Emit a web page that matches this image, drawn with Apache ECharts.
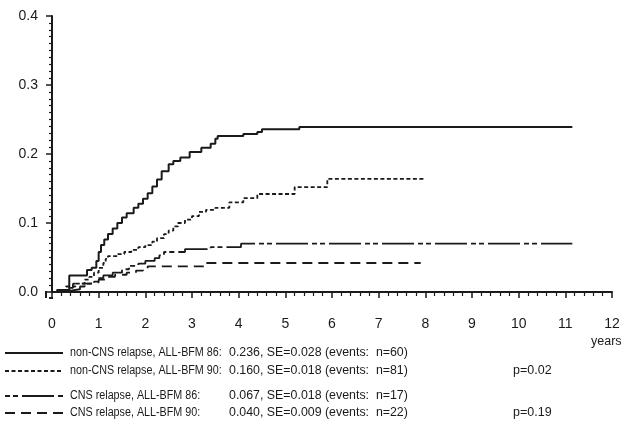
<!DOCTYPE html>
<html>
<head>
<meta charset="utf-8">
<script src="https://cdn.jsdelivr.net/npm/echarts@6/dist/echarts.min.js"></script>
<style>
html,body{margin:0;padding:0;background:#fff;}
#chart{width:629px;height:421px;}
</style>
</head>
<body>
<div id="chart"></div>
<script>
// ---- data (years, cumulative incidence) ----
var nonCns86 = [
  [0.1,0.003],[0.37,0.024],[0.75,0.032],[0.85,0.035],[0.95,0.045],[1.0,0.058],[1.05,0.068],
  [1.12,0.076],[1.2,0.084],[1.3,0.092],[1.4,0.100],[1.5,0.108],[1.6,0.114],[1.75,0.122],
  [1.85,0.128],[1.95,0.135],[2.05,0.143],[2.15,0.153],[2.25,0.163],[2.35,0.175],[2.5,0.185],
  [2.6,0.190],[2.75,0.195],[2.95,0.203],[3.2,0.209],[3.4,0.215],[3.5,0.222],[3.55,0.226],
  [4.1,0.229],[4.4,0.232],[4.5,0.236],[5.3,0.239],[11.15,0.239]
];
var nonCns90 = [
  [0.1,0.002],[0.3,0.008],[0.5,0.012],[0.7,0.018],[0.8,0.022],[0.9,0.028],[1.0,0.035],
  [1.1,0.042],[1.15,0.048],[1.2,0.052],[1.4,0.055],[1.55,0.058],[1.7,0.061],[1.85,0.065],
  [2.0,0.068],[2.15,0.073],[2.25,0.078],[2.4,0.084],[2.5,0.089],[2.6,0.095],[2.7,0.100],
  [2.85,0.105],[3.0,0.110],[3.15,0.116],[3.3,0.119],[3.5,0.122],[3.8,0.130],[4.1,0.136],
  [4.4,0.142],[5.2,0.152],[5.9,0.164],[8.0,0.164]
];
var cns86 = [
  [0.1,0.002],[0.4,0.004],[0.6,0.008],[0.7,0.012],[0.9,0.015],[1.0,0.020],[1.1,0.024],
  [1.3,0.028],[1.5,0.033],[1.65,0.038],[1.85,0.041],[2.0,0.045],[2.2,0.049],[2.3,0.053],
  [2.4,0.058],[2.85,0.062],[3.4,0.065],[4.05,0.070],[11.15,0.070]
];
var cns90 = [
  [0.1,0.002],[0.3,0.006],[0.45,0.012],[0.8,0.014],[1.0,0.018],[1.2,0.022],[1.35,0.025],
  [1.6,0.028],[1.8,0.031],[1.95,0.034],[2.05,0.037],[3.3,0.042],[7.9,0.042]
];
var legendLabels = ['non-CNS relapse, ALL-BFM 86:', 'non-CNS relapse, ALL-BFM 90:', 'CNS relapse, ALL-BFM 86:', 'CNS relapse, ALL-BFM 90:'];
var legendStats = ['0.236, SE=0.028 (events:  n=60)', '0.160, SE=0.018 (events:  n=81)', '0.067, SE=0.018 (events:  n=17)', '0.040, SE=0.009 (events:  n=22)'];
var pValues = ['', 'p=0.02', '', 'p=0.19'];
var xTitle = 'years';

// ---- styles ----
var ink = '#1a1a1a';
var dashes = ['solid', [4, 2.5], [32, 4, 5, 3, 5, 4], [10, 6]];
var widths = [2, 1.8, 1.8, 1.8];
var seriesData = [nonCns86, nonCns90, cns86, cns90];

var chart = echarts.init(document.getElementById('chart'), null, {renderer: 'canvas'});
var font = '"Liberation Sans", Arial, sans-serif';
var tf = '12.5px ' + font;

function txt(s, x, y, sx) {
  return {type: 'text', silent: true, x: x, y: y, scaleX: sx || 1,
    style: {text: s, x: 0, y: 0, fill: ink, font: tf, verticalAlign: 'middle'}};
}

var graphics = [];
var rowY = [353, 371, 396, 413];
var sampleDash = [null, [4, 2.5], [5, 3, 5, 4, 32, 4], [10, 6]];
for (var i = 0; i < 4; i++) {
  graphics.push({
    type: 'line', silent: true,
    shape: {x1: 5, y1: rowY[i], x2: 63, y2: rowY[i]},
    style: {stroke: ink, lineWidth: widths[i], lineDash: sampleDash[i]}
  });
  graphics.push(txt(legendLabels[i], 70, rowY[i], 0.86));
  graphics.push(txt(legendStats[i], 229, rowY[i], 0.99));
  if (pValues[i]) graphics.push(txt(pValues[i], 513, rowY[i], 1));
}
graphics.push({type: 'text', silent: true, style: {text: xTitle, x: 591, y: 342, fill: ink, font: '12.5px ' + font, verticalAlign: 'middle'}});
graphics.push({type: 'line', silent: true, shape: {x1: 46, y1: 291, x2: 46, y2: 298}, style: {stroke: ink, lineWidth: 2}});
graphics.push({type: 'line', silent: true, shape: {x1: 49, y1: 298, x2: 53, y2: 298}, style: {stroke: ink, lineWidth: 2}});

var option = {
  animation: false,
  backgroundColor: '#fff',
  grid: {left: 52, right: 17, top: 16, bottom: 129},
  xAxis: {
    type: 'value', min: 0, max: 12, interval: 1, offset: 6,
    axisLine: {show: true, lineStyle: {color: ink, width: 2}},
    axisTick: {show: true, length: 6, lineStyle: {color: ink, width: 1.5}},
    minorTick: {show: true, splitNumber: 5, length: 4, lineStyle: {color: ink, width: 1.2}},
    splitLine: {show: false},
    axisLabel: {color: ink, fontSize: 14, fontFamily: font, margin: 19}
  },
  yAxis: {
    type: 'value', min: 0, max: 0.4, interval: 0.1, offset: 6,
    axisLine: {show: true, lineStyle: {color: ink, width: 2}},
    axisTick: {show: true, length: 6, lineStyle: {color: ink, width: 1.5}},
    minorTick: {show: true, splitNumber: 10, length: 3, lineStyle: {color: ink, width: 1.2}},
    splitLine: {show: false},
    axisLabel: {color: ink, fontSize: 14, fontFamily: font, margin: 8, formatter: function (v) { return v.toFixed(1); }}
  },
  series: seriesData.map(function (d, i) {
    return {
      type: 'line', step: 'end', data: d, symbol: 'none', silent: true,
      lineStyle: {color: ink, width: widths[i], type: dashes[i]}
    };
  }),
  graphic: graphics
};
chart.setOption(option);
</script>
</body>
</html>
